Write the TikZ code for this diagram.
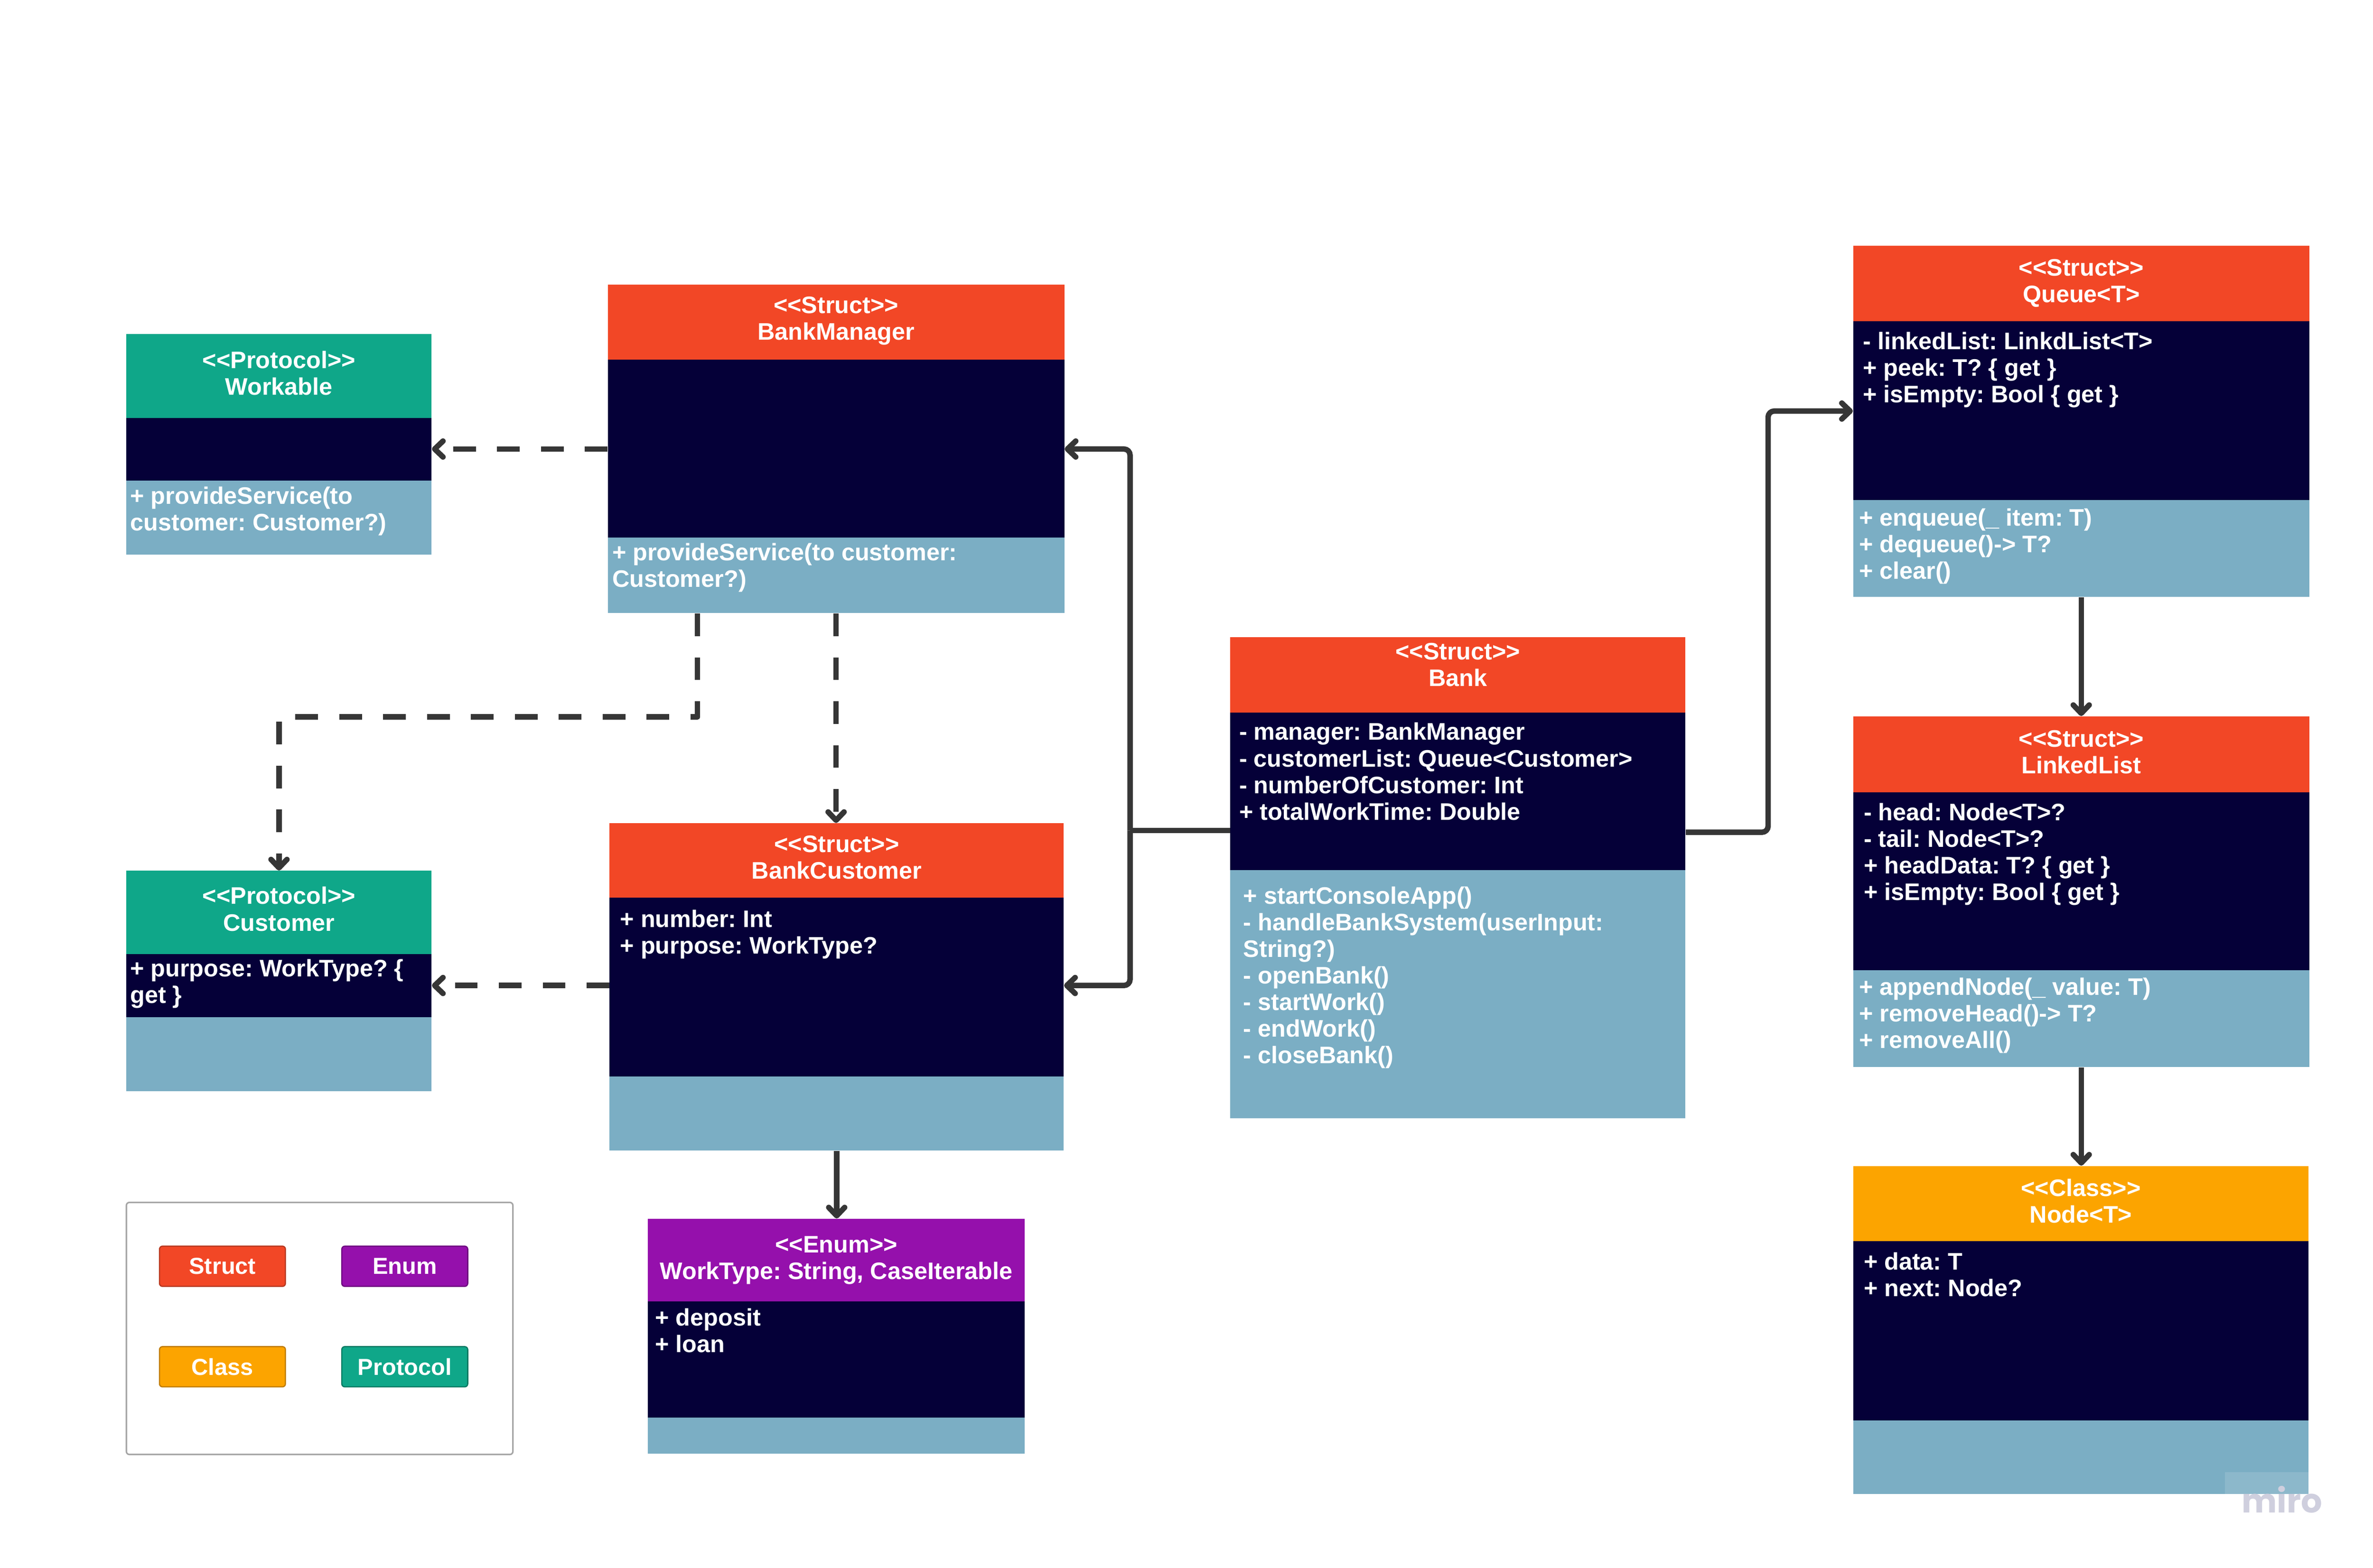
\documentclass[tikz,border=0pt]{standalone}
\usepackage{fontspec}
\setmainfont{Liberation Sans}
\newfontfamily\wmfont{Poppins}
\usetikzlibrary{arrows.meta,calc,fit}
\definecolor{structC}{HTML}{F24726}
\definecolor{structD}{HTML}{B8381F}
\definecolor{protoC}{HTML}{0FA789}
\definecolor{protoD}{HTML}{0B7A63}
\definecolor{enumC}{HTML}{9510AC}
\definecolor{enumD}{HTML}{6E0C80}
\definecolor{classC}{HTML}{FCA400}
\definecolor{classD}{HTML}{C07C00}
\definecolor{navyC}{HTML}{050038}
\definecolor{lblueC}{HTML}{7BAEC4}
\definecolor{lineC}{HTML}{363636}
\definecolor{legendC}{HTML}{A6A6A6}
\definecolor{wmC}{HTML}{CFCFDE}
\newcommand\umlfont{\frenchspacing\fontsize{15.8}{17.6}\selectfont\bfseries}
\newcommand\legfont{\fontsize{15.3}{17.6}\selectfont\bfseries}
\newcommand\umlbox[8]{%
  \fill[#8] (#2,#3) rectangle (#4,#5);
  \fill[navyC] (#2,#5) rectangle (#4,#6);
  \fill[lblueC] (#2,#6) rectangle (#4,#7);
  \node[inner sep=0pt, fit={(#2,#3) (#4,#7)}] (#1) {};
}
\begin{document}
\frenchspacing
\begin{tikzpicture}[x=1pt,y=-1pt,
  hd/.style={anchor=north, inner sep=0pt, align=center, text=white, font=\umlfont},
  bd/.style={anchor=north west, inner sep=0pt, align=left, text=white, font=\umlfont},
  conn/.style={draw=lineC, line width=3.6pt, line join=round,
    -{Straight Barb[length=5.5pt,width=10.5pt,round]}},
  plainline/.style={draw=lineC, line width=3.6pt},
  dep/.style={conn, dash pattern=on 15pt off 14pt},
  legbtn/.style={rounded corners=2pt, line width=0.8pt, inner sep=0pt,
    minimum width=83.2pt, minimum height=26.6pt, text=white, font=\legfont}]
\useasboundingbox (0,0) rectangle (1568,1036.4);
\fill[white] (0,0) rectangle (1568,1036.4);

% ---------- boxes ----------
\umlbox{workable}{83.5}{220.9}{285.2}{276.2}{317.7}{366.7}{protoC}
\umlbox{bankmanager}{401.6}{188.1}{703.3}{237.6}{355.3}{405.3}{structC}
\umlbox{customer}{83.5}{575.6}{285.2}{630.7}{672.4}{721.3}{protoC}
\umlbox{bankcustomer}{402.8}{544.2}{702.9}{593.4}{711.4}{760.5}{structC}
\umlbox{worktype}{428.1}{805.6}{677.1}{860.2}{937.1}{961.0}{enumC}
\umlbox{bank}{812.9}{421.3}{1113.7}{470.9}{575.2}{739.1}{structC}
\umlbox{queue}{1224.5}{162.4}{1525.9}{212.4}{330.4}{394.6}{structC}
\umlbox{linkedlist}{1224.5}{473.5}{1525.9}{523.7}{641.2}{705.4}{structC}
\umlbox{nodeT}{1224.5}{770.7}{1525.4}{820.5}{938.8}{987.4}{classC}

% ---------- headers ----------
\node[hd] (workable-h) at ($(workable.north)+(0,10.18)$) {\strut<{}<Protocol>{}>\\Workable};
\node[hd] (bankmanager-h) at ($(bankmanager.north)+(0,6.78)$) {\strut<{}<Struct>{}>\\BankManager};
\node[hd] (customer-h) at ($(customer.north)+(0,9.78)$) {\strut<{}<Protocol>{}>\\Customer};
\node[hd] (bankcustomer-h) at ($(bankcustomer.north)+(0,6.88)$) {\strut<{}<Struct>{}>\\BankCustomer};
\node[hd] (worktype-h) at ($(worktype.north)+(0,9.98)$) {\strut<{}<Enum>{}>\\WorkType: String, CaseIterable};
\node[hd] (bank-h) at ($(bank.north)+(0,2.48)$) {\strut<{}<Struct>{}>\\Bank};
\node[hd] (queue-h) at ($(queue.north)+(0,7.58)$) {\strut<{}<Struct>{}>\\Queue<T>};
\node[hd] (linkedlist-h) at ($(linkedlist.north)+(0,7.88)$) {\strut<{}<Struct>{}>\\LinkedList};
\node[hd] (nodeT-h) at ($(nodeT.north)+(0,7.78)$) {\strut<{}<Class>{}>\\Node<T>};

% ---------- members ----------
\node[bd] (workable-m) at ($(workable.north west)+(2.6,100.08)$) {\strut+ provideService(to\\customer: Customer?)};
\node[bd] (bankmanager-m) at ($(bankmanager.north west)+(3,170.08)$) {\strut+ provideService(to customer:\\Customer?)};
\node[bd] (customer-a) at ($(customer.north west)+(2.5,57.48)$) {\strut+ purpose: WorkType? \{\\get \}};
\node[bd] (bankcustomer-a) at ($(bankcustomer.north west)+(7,56.38)$) {\strut+ number: Int\\+ purpose: WorkType?};
\node[bd] (worktype-a) at ($(worktype.north west)+(4.8,58.38)$) {\strut+ deposit\\+ loan};
\node[bd] (bank-a) at ($(bank.north west)+(5.9,55.58)$) {\strut- manager: BankManager\\- customerList: Queue<Customer>\\- numberOfCustomer: Int\\+ totalWorkTime: Double};
\node[bd] (bank-m) at ($(bank.north west)+(8.7,163.78)$) {\strut+ startConsoleApp()\\- handleBankSystem(userInput:\\String?)\\- openBank()\\- startWork()\\- endWork()\\- closeBank()};
\node[bd] (queue-a) at ($(queue.north west)+(6.5,56.28)$) {\strut- linkedList: LinkdList<T>\\+ peek: T? \{ get \}\\+ isEmpty: Bool \{ get \}};
\node[bd] (queue-m) at ($(queue.north west)+(3.9,172.88)$) {\strut+ enqueue(\_ item: T)\\+ dequeue()-> T?\\+ clear()};
\node[bd] (linkedlist-a) at ($(linkedlist.north west)+(7,56.48)$) {\strut- head: Node<T>?\\- tail: Node<T>?\\+ headData: T? \{ get \}\\+ isEmpty: Bool \{ get \}};
\node[bd] (linkedlist-m) at ($(linkedlist.north west)+(4,171.98)$) {\strut+ appendNode(\_ value: T)\\+ removeHead()-> T?\\+ removeAll()};
\node[bd] (nodeT-a) at ($(nodeT.north west)+(7,56.38)$) {\strut+ data: T\\+ next: Node?};

% ---------- connectors ----------
\coordinate (bmL) at ($(bankmanager.north west)+(0,108.9)$);
\draw[dep] (bmL) -- (bmL -| workable.east);
\draw[dep] ($(bankmanager.south west)+(59.4,0)$) -- ++(0,68.4) -| (customer.north);
\draw[dep] (bankmanager.south) -- (bankmanager.south |- bankcustomer.north);
\coordinate (bcL) at ($(bankcustomer.north west)+(0,107.4)$);
\draw[dep] (bcL) -- (bcL -| customer.east);
\draw[conn] (bankcustomer.south) -- (bankcustomer.south |- worktype.north);

\coordinate (bankL) at ($(bank.north west)+(0,127.9)$);
\coordinate (jl) at ($(bankL)+(-66,0)$);
\draw[plainline] (bankL) -- (jl);
\draw[conn, rounded corners=4pt] (jl) |- ($(bankmanager.north east)+(0,108.9)$);
\draw[conn, rounded corners=4pt] (jl) |- ($(bankcustomer.north east)+(0,107.4)$);

\coordinate (bankR) at ($(bank.north east)+(0,129)$);
\coordinate (jr) at ($(bankR)+(54.4,0)$);
\draw[conn, rounded corners=4pt] (bankR) -- (jr) |- ($(queue.north west)+(0,109.5)$);
\draw[conn] (queue.south) -- (queue.south |- linkedlist.north);
\draw[conn] (linkedlist.south) -- (linkedlist.south |- nodeT.north);

% ---------- legend ----------
\node[inner sep=0pt, draw=legendC, line width=1pt, rounded corners=2pt,
  fit={(83.5,794.8) (338.9,961.4)}] (legend) {};
\node[legbtn, fill=structC, draw=structD] (lgstruct) at (147,837) {Struct};
\node[legbtn, fill=enumC, draw=enumD] (lgenum) at (267.45,837) {Enum};
\node[legbtn, fill=classC, draw=classD] (lgclass) at (147,903.4) {Class};
\node[legbtn, fill=protoC, draw=protoD] (lgproto) at (267.45,903.4) {Protocol};

% ---------- watermark ----------
\fill[white, opacity=0.13] (1470,973) rectangle (1525.4,987.4);
\node[anchor=base west, inner sep=0pt, text=wmC,
  font={\wmfont\fontsize{22}{24}\selectfont\bfseries}] (miro) at (1481,1000) {miro};
\end{tikzpicture}
\end{document}
